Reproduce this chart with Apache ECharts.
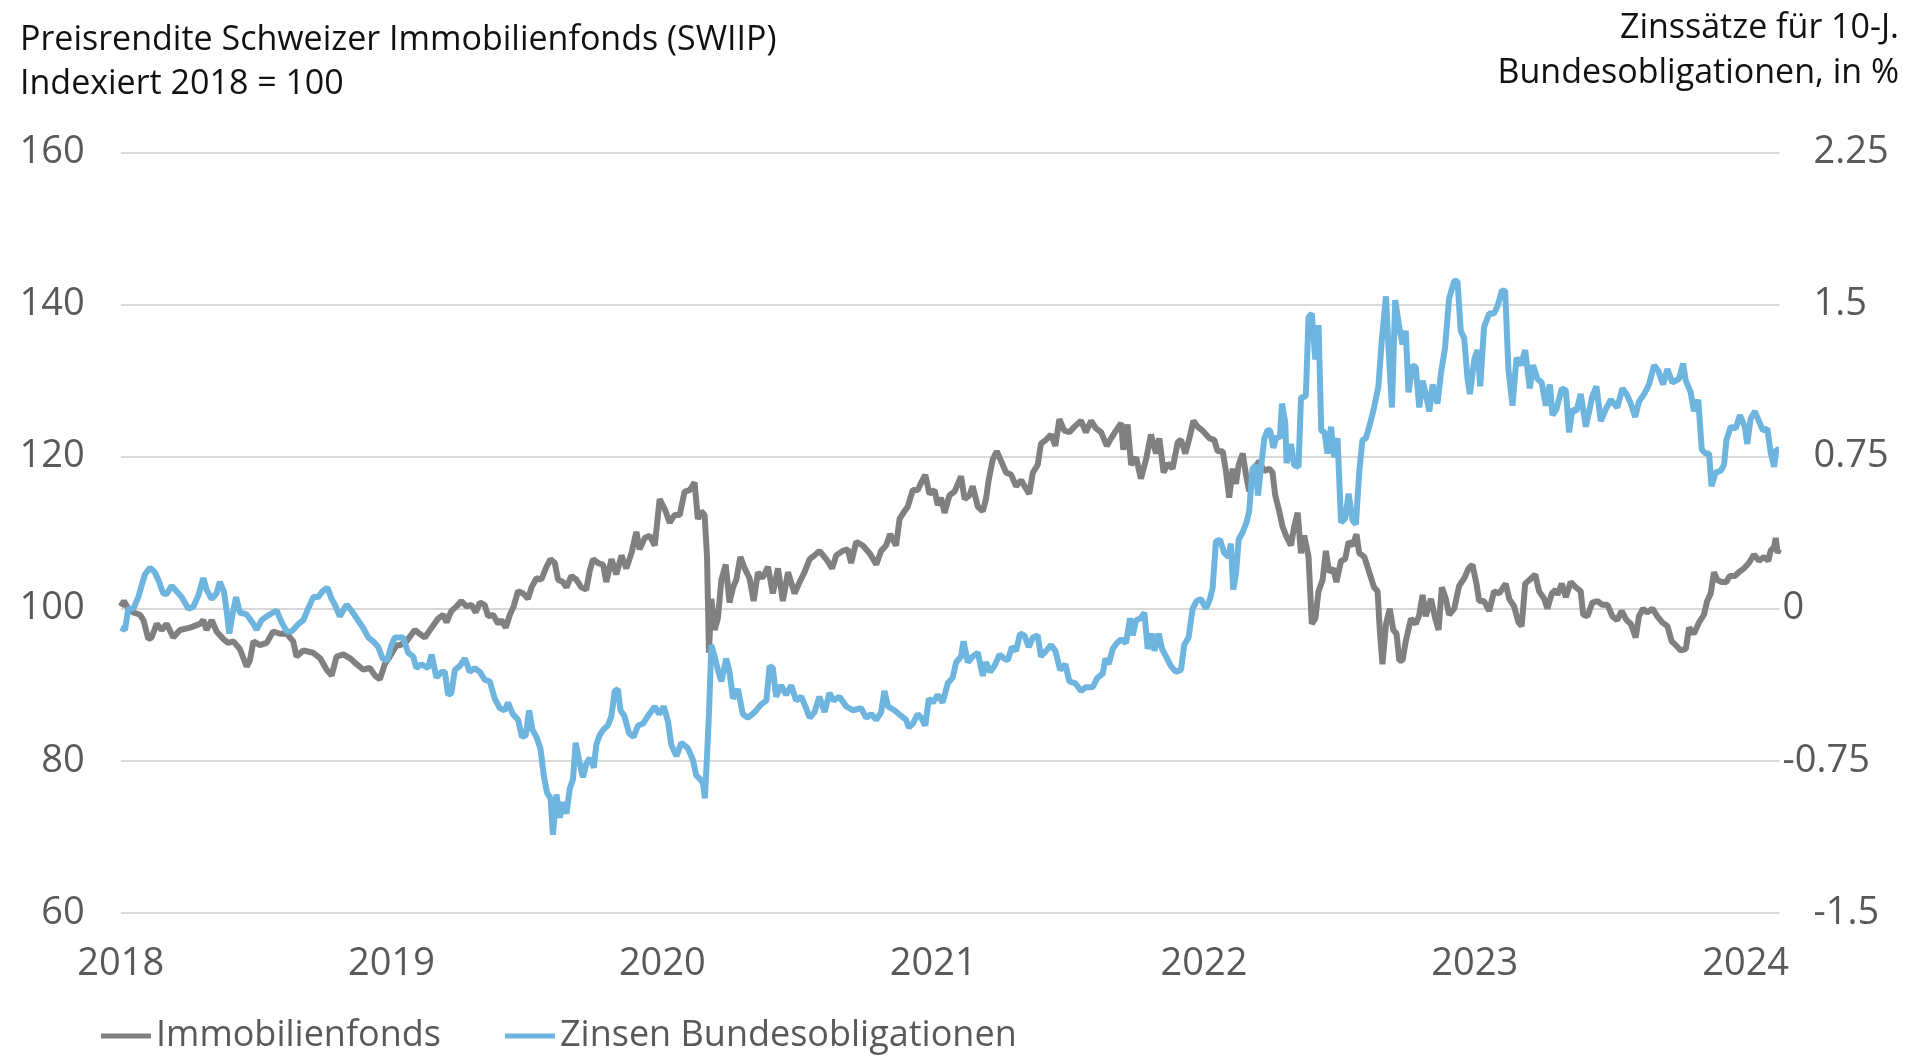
<!DOCTYPE html>
<html>
<head>
<meta charset="utf-8">
<title>SWIIP vs Bundesobligationen</title>
<script src="https://cdn.jsdelivr.net/npm/echarts/dist/echarts.min.js"></script>
<style>
  body { margin: 0; background: #fff; }
  #chart { width: 1911px; height: 1059px; }
</style>
</head>
<body>
<div id="chart"></div>
<script>
// [year (decimal), index 2018 = 100]
var immoData = [
  [2018.000,100.3],[2018.012,101],[2018.028,100],[2018.047,99.5],[2018.071,99.2],[2018.084,98.5],[2018.102,96],[2018.114,96.2],[2018.133,98],[2018.151,97.2],[2018.170,98],[2018.194,96.2],[2018.219,97.2],[2018.256,97.5],[2018.293,98],[2018.305,98.5],[2018.317,97.2],[2018.336,98.5],[2018.354,97],[2018.379,96],[2018.397,95.5],[2018.416,95.7],[2018.440,94.7],[2018.465,92.4],[2018.477,93.2],[2018.490,95.7],[2018.514,95.2],[2018.539,95.5],[2018.563,97],[2018.588,96.7],[2018.613,96.7],[2018.637,95.7],[2018.649,93.7],[2018.674,94.5],[2018.711,94.2],[2018.736,93.5],[2018.760,92],[2018.779,91.2],[2018.797,93.7],[2018.822,94],[2018.846,93.5],[2018.871,92.7],[2018.895,92],[2018.920,92.2],[2018.939,91.2],[2018.957,90.7],[2018.975,92.7],[2018.994,93.7],[2019.018,95.2],
  [2019.031,95.2],[2019.055,95.7],[2019.086,97.2],[2019.104,96.7],[2019.123,96.2],[2019.148,97.5],[2019.172,98.7],[2019.191,99.2],[2019.203,98.2],[2019.221,99.7],[2019.240,100.3],[2019.258,101],[2019.277,100.3],[2019.295,100.5],[2019.311,99.5],[2019.326,100.8],[2019.344,100.5],[2019.357,99],[2019.375,99.2],[2019.394,98],[2019.406,98.5],[2019.422,97.5],[2019.437,99.2],[2019.451,100.3],[2019.467,102.3],[2019.486,102],[2019.504,101.3],[2019.517,102.8],[2019.535,104],[2019.553,103.8],[2019.572,105.5],[2019.587,106.5],[2019.603,106],[2019.615,103.8],[2019.633,103.5],[2019.646,102.8],[2019.664,104.3],[2019.683,103.8],[2019.701,102.8],[2019.719,102.5],[2019.732,105],[2019.744,106.5],[2019.763,106],[2019.781,105.8],[2019.793,103.5],[2019.812,106.5],[2019.830,104.5],[2019.849,107],[2019.867,105.3],[2019.886,107.3],[2019.904,110.1],[2019.916,107.8],[2019.935,109.3],[2019.953,109.6],[2019.972,108.3],[2019.990,114.4],[2020.009,113.1],[2020.027,111.3],[2020.045,112.3],[2020.064,112.3],[2020.082,115.4],
  [2020.101,115.6],[2020.119,116.6],[2020.131,111.8],[2020.144,112.8],[2020.156,112.3],[2020.165,106.8],[2020.172,94.2],[2020.181,101.3],[2020.193,97.2],[2020.205,98.7],[2020.218,103.8],[2020.234,105.8],[2020.248,100.8],[2020.261,102.8],[2020.273,103.8],[2020.288,106.8],[2020.304,105.3],[2020.322,104],[2020.337,101],[2020.353,104.8],[2020.369,104],[2020.390,105.5],[2020.408,102],[2020.427,105.3],[2020.445,101],[2020.464,104.8],[2020.488,102],[2020.507,103.5],[2020.525,104.8],[2020.544,106.5],[2020.562,107],[2020.580,107.6],[2020.605,106.5],[2020.627,105.3],[2020.642,107],[2020.666,107.6],[2020.685,107.8],[2020.697,106],[2020.716,108.8],[2020.740,108.3],[2020.765,107.3],[2020.790,105.8],[2020.808,107.6],[2020.826,108.3],[2020.841,109.8],[2020.863,108.3],[2020.876,111.8],[2020.890,112.6],[2020.906,113.4],[2020.925,115.6],[2020.943,115.6],[2020.956,116.6],[2020.971,117.6],[2020.986,115.1],[2021.005,115.6],[2021.017,113.6],[2021.029,114.6],[2021.042,112.6],[2021.060,114.9],[2021.079,115.4],[2021.103,117.4],[2021.116,114.4],[2021.134,114.9],[2021.146,116.1],[2021.165,113.4],
  [2021.183,112.8],[2021.195,114.4],[2021.205,116.9],[2021.220,119.6],[2021.235,120.7],[2021.251,119.4],[2021.269,117.9],[2021.288,117.6],[2021.306,116.1],[2021.325,116.9],[2021.341,115.9],[2021.355,115.1],[2021.368,117.9],[2021.386,118.9],[2021.398,121.7],[2021.417,122.2],[2021.435,122.9],[2021.451,121.4],[2021.466,124.9],[2021.484,123.4],[2021.503,123.2],[2021.521,123.9],[2021.546,124.7],[2021.564,123.2],[2021.583,124.7],[2021.601,123.7],[2021.620,123.2],[2021.641,121.4],[2021.657,122.4],[2021.675,123.4],[2021.694,124.4],[2021.702,120.9],[2021.718,124.2],[2021.731,118.9],[2021.749,119.9],[2021.767,117.1],[2021.786,119.6],[2021.804,122.9],[2021.823,120.4],[2021.835,122.4],[2021.851,117.9],[2021.866,119.1],[2021.884,118.4],[2021.903,121.9],[2021.915,122.2],[2021.931,120.4],[2021.946,122.4],[2021.961,124.7],[2021.977,123.9],[2021.995,123.4],[2022.020,122.4],[2022.038,122.2],[2022.050,120.7],[2022.069,120.7],[2022.081,118.1],[2022.093,114.6],[2022.106,118.4],[2022.118,116.4],[2022.128,118.9],[2022.143,120.4],[2022.155,117.6],[2022.167,115.4],[2022.186,118.4],[2022.204,119.4],[2022.222,118.1],
  [2022.241,118.4],[2022.253,117.9],[2022.263,114.9],[2022.278,112.8],[2022.290,110.8],[2022.303,109.6],[2022.321,108.3],[2022.333,110.8],[2022.346,112.6],[2022.358,107.3],[2022.370,109.6],[2022.386,106.8],[2022.398,98.0],[2022.411,98.7],[2022.423,102.3],[2022.438,103.8],[2022.450,107.6],[2022.462,104.8],[2022.477,105.3],[2022.489,103.5],[2022.506,106.3],[2022.521,106.5],[2022.534,108.8],[2022.549,108.3],[2022.563,109.8],[2022.573,107.3],[2022.592,106.8],[2022.610,104.8],[2022.628,102.8],[2022.641,102.3],[2022.649,97.2],[2022.659,92.7],[2022.672,98.0],[2022.686,100],[2022.699,97.2],[2022.711,96.7],[2022.721,93.2],[2022.733,93.2],[2022.745,95.7],[2022.764,98.7],[2022.782,98.0],[2022.795,99.2],[2022.807,101.8],[2022.819,99.0],[2022.838,101.3],[2022.854,98.7],[2022.866,97.2],[2022.878,102.8],[2022.893,101.3],[2022.905,99.2],[2022.924,100],[2022.942,103.0],[2022.961,104.0],[2022.977,105.3],[2022.991,105.8],[2023.006,103.3],[2023.016,101],[2023.034,101],[2023.053,99.7],[2023.071,102.3],[2023.090,102.0],[2023.114,103.3],[2023.127,101.3],[2023.145,100.3],[2023.161,98.2],[2023.173,97.7],[2023.186,103.3],[2023.203,103.8],[2023.223,104.5],[2023.237,102.3],[2023.256,101.3],[2023.268,100],[2023.284,102.0],[2023.299,102.5],
  [2023.305,101.8],[2023.321,103.3],[2023.336,101.5],[2023.354,103.5],[2023.373,102.8],[2023.391,102.3],[2023.400,99.2],[2023.416,99.0],[2023.434,100.8],[2023.453,101],[2023.471,100.5],[2023.490,100.5],[2023.508,99.0],[2023.526,98.5],[2023.542,99.7],[2023.560,98.5],[2023.576,98.0],[2023.594,96.2],[2023.606,99.0],[2023.621,100],[2023.637,99.5],[2023.656,100],[2023.674,99.0],[2023.692,98.2],[2023.711,97.7],[2023.727,95.7],[2023.742,95.2],[2023.760,94.5],[2023.779,94.7],[2023.791,97.5],[2023.809,96.7],[2023.828,98.2],[2023.846,99.2],[2023.858,101],[2023.871,102.0],[2023.883,104.8],[2023.895,103.8],[2023.911,103.5],[2023.929,103.5],[2023.941,104.3],[2023.961,104.3],[2023.975,104.8],[2023.994,105.3],[2024.012,106.0],[2024.031,107.1],[2024.049,106.3],[2024.068,106.8],[2024.084,106.3],[2024.092,107.6],[2024.105,108.1],[2024.111,109.3],[2024.118,107.3],[2024.123,107.8]
];

// [year (decimal), 10y yield in %]
var zinsData = [
  [2018.000,-0.094],[2018.016,-0.104],[2018.028,0],[2018.047,0],[2018.065,0.057],[2018.077,0.113],[2018.090,0.170],[2018.108,0.202],[2018.126,0.179],[2018.139,0.142],[2018.157,0.076],[2018.170,0.072],[2018.188,0.113],[2018.207,0.085],[2018.225,0.057],[2018.250,0],[2018.268,0.009],[2018.287,0.066],[2018.305,0.151],[2018.317,0.094],[2018.336,0.047],[2018.354,0.076],[2018.366,0.132],[2018.381,0.085],[2018.391,-0.009],[2018.401,-0.123],[2018.413,-0.028],[2018.426,0.057],[2018.440,-0.019],[2018.465,-0.028],[2018.490,-0.076],[2018.502,-0.104],[2018.520,-0.057],[2018.539,-0.038],[2018.563,-0.019],[2018.576,-0.009],[2018.594,-0.066],[2018.613,-0.113],[2018.631,-0.113],[2018.656,-0.076],[2018.674,-0.057],[2018.692,0],[2018.711,0.057],[2018.729,0.057],[2018.745,0.085],[2018.763,0.104],[2018.779,0.047],[2018.791,0.019],[2018.809,-0.038],[2018.834,0.019],[2018.852,-0.009],[2018.871,-0.047],[2018.895,-0.094],[2018.914,-0.142],[2018.932,-0.161],[2018.951,-0.189],[2018.967,-0.246],[2018.984,-0.255],[2019.000,-0.179],[2019.012,-0.142],[2019.031,-0.142],
  [2019.043,-0.142],[2019.061,-0.217],[2019.080,-0.236],[2019.092,-0.293],[2019.110,-0.274],[2019.135,-0.293],[2019.148,-0.227],[2019.166,-0.340],[2019.184,-0.312],[2019.197,-0.312],[2019.209,-0.425],[2019.221,-0.416],[2019.234,-0.302],[2019.252,-0.283],[2019.271,-0.246],[2019.289,-0.312],[2019.307,-0.293],[2019.326,-0.312],[2019.344,-0.350],[2019.363,-0.359],[2019.381,-0.444],[2019.400,-0.491],[2019.418,-0.501],[2019.430,-0.463],[2019.448,-0.520],[2019.467,-0.548],[2019.482,-0.633],[2019.496,-0.623],[2019.508,-0.501],[2019.520,-0.595],[2019.535,-0.633],[2019.550,-0.690],[2019.562,-0.822],[2019.574,-0.907],[2019.587,-0.935],[2019.596,-1.115],[2019.609,-0.916],[2019.621,-1.030],[2019.633,-0.954],[2019.646,-1.011],[2019.658,-0.888],[2019.670,-0.841],[2019.680,-0.661],[2019.695,-0.765],[2019.707,-0.831],[2019.719,-0.765],[2019.732,-0.737],[2019.747,-0.784],[2019.756,-0.671],[2019.769,-0.623],[2019.783,-0.595],[2019.799,-0.576],[2019.812,-0.529],[2019.824,-0.406],[2019.836,-0.397],[2019.845,-0.501],[2019.860,-0.529],[2019.877,-0.614],[2019.894,-0.633],[2019.910,-0.576],[2019.929,-0.567],[2019.947,-0.529],[2019.972,-0.482],[2019.988,-0.520],[2020.005,-0.482],[2020.021,-0.557],[2020.033,-0.671],[2020.052,-0.727],[2020.070,-0.661],[2020.088,-0.680],
  [2020.095,-0.690],[2020.113,-0.746],[2020.125,-0.822],[2020.140,-0.841],[2020.150,-0.860],[2020.157,-0.935],[2020.165,-0.727],[2020.172,-0.520],[2020.181,-0.179],[2020.193,-0.236],[2020.205,-0.302],[2020.218,-0.359],[2020.236,-0.246],[2020.248,-0.312],[2020.261,-0.444],[2020.279,-0.397],[2020.297,-0.520],[2020.316,-0.538],[2020.341,-0.510],[2020.365,-0.472],[2020.384,-0.453],[2020.396,-0.283],[2020.408,-0.293],[2020.420,-0.434],[2020.439,-0.378],[2020.457,-0.425],[2020.476,-0.378],[2020.494,-0.453],[2020.513,-0.434],[2020.531,-0.491],[2020.544,-0.538],[2020.562,-0.510],[2020.580,-0.434],[2020.599,-0.510],[2020.617,-0.416],[2020.632,-0.453],[2020.654,-0.434],[2020.679,-0.482],[2020.703,-0.501],[2020.734,-0.491],[2020.753,-0.538],[2020.771,-0.520],[2020.790,-0.548],[2020.808,-0.510],[2020.820,-0.406],[2020.833,-0.482],[2020.857,-0.501],[2020.882,-0.529],[2020.900,-0.548],[2020.910,-0.586],[2020.925,-0.567],[2020.943,-0.520],[2020.956,-0.538],[2020.971,-0.576],[2020.984,-0.444],[2020.999,-0.463],[2021.017,-0.425],[2021.035,-0.463],[2021.054,-0.368],[2021.072,-0.340],[2021.085,-0.264],[2021.103,-0.236],[2021.112,-0.161],[2021.128,-0.264],[2021.146,-0.236],[2021.165,-0.217],
  [2021.183,-0.331],[2021.195,-0.264],[2021.210,-0.312],[2021.226,-0.283],[2021.245,-0.227],[2021.263,-0.246],[2021.275,-0.255],[2021.291,-0.189],[2021.306,-0.208],[2021.321,-0.123],[2021.337,-0.132],[2021.353,-0.189],[2021.368,-0.142],[2021.386,-0.132],[2021.398,-0.236],[2021.417,-0.208],[2021.435,-0.179],[2021.451,-0.208],[2021.469,-0.302],[2021.488,-0.274],[2021.503,-0.359],[2021.525,-0.368],[2021.546,-0.406],[2021.564,-0.387],[2021.589,-0.387],[2021.607,-0.340],[2021.626,-0.321],[2021.636,-0.246],[2021.648,-0.274],[2021.663,-0.198],[2021.678,-0.170],[2021.694,-0.151],[2021.712,-0.170],[2021.727,-0.047],[2021.737,-0.132],[2021.749,-0.057],[2021.767,-0.047],[2021.780,-0.019],[2021.792,-0.198],[2021.808,-0.123],[2021.817,-0.208],[2021.833,-0.123],[2021.845,-0.198],[2021.860,-0.236],[2021.878,-0.283],[2021.896,-0.312],[2021.915,-0.302],[2021.927,-0.179],[2021.943,-0.142],[2021.958,0],[2021.973,0.038],[2021.989,0.047],[2022.007,0],[2022.022,0.047],[2022.032,0.104],[2022.044,0.331],[2022.059,0.340],[2022.075,0.274],[2022.091,0.255],[2022.099,0.321],[2022.108,0.094],[2022.118,0.170],[2022.128,0.340],[2022.143,0.378],[2022.157,0.425],[2022.167,0.482],[2022.179,0.690],[2022.192,0.708],[2022.199,0.557],[2022.213,0.727],[2022.223,0.841],[2022.235,0.880],
  [2022.244,0.878],[2022.256,0.793],[2022.268,0.850],[2022.280,0.841],[2022.288,1.011],[2022.300,0.916],[2022.305,0.718],[2022.321,0.812],[2022.333,0.708],[2022.349,0.699],[2022.358,1.039],[2022.376,1.048],[2022.386,1.436],[2022.398,1.455],[2022.411,1.228],[2022.423,1.398],[2022.433,0.878],[2022.445,0.869],[2022.456,0.765],[2022.469,0.897],[2022.481,0.746],[2022.493,0.841],[2022.506,0.425],[2022.521,0.444],[2022.534,0.567],[2022.549,0.434],[2022.561,0.416],[2022.573,0.671],[2022.585,0.831],[2022.598,0.841],[2022.614,0.916],[2022.628,0.992],[2022.644,1.096],[2022.657,1.332],[2022.672,1.540],[2022.681,1.294],[2022.694,0.992],[2022.706,1.521],[2022.721,1.388],[2022.733,1.303],[2022.745,1.370],[2022.755,1.067],[2022.770,1.200],[2022.782,1.190],[2022.795,0.992],[2022.807,1.124],[2022.819,1.058],[2022.832,0.973],[2022.844,1.105],[2022.862,1.011],[2022.875,1.162],[2022.890,1.285],[2022.905,1.530],[2022.924,1.615],[2022.936,1.615],[2022.948,1.370],[2022.961,1.332],[2022.973,1.133],[2022.982,1.058],[2022.998,1.228],[2023.010,1.275],[2023.020,1.096],[2023.034,1.388],[2023.053,1.455],[2023.071,1.455],[2023.084,1.492],[2023.100,1.568],[2023.112,1.568],[2023.124,1.181],[2023.139,1.001],[2023.154,1.237],[2023.170,1.200],[2023.186,1.275],[2023.203,1.086],[2023.215,1.200],[2023.231,1.133],[2023.247,1.115],[2023.262,1.001],[2023.277,1.105],[2023.287,0.954],[2023.301,0.982],
  [2023.305,0.973],[2023.321,1.086],[2023.336,1.077],[2023.348,0.869],[2023.360,0.982],[2023.375,0.973],[2023.391,1.058],[2023.410,0.897],[2023.422,0.973],[2023.434,1.048],[2023.449,1.096],[2023.465,0.925],[2023.483,0.982],[2023.502,1.030],[2023.526,0.992],[2023.545,1.086],[2023.560,1.058],[2023.576,1.011],[2023.592,0.945],[2023.606,1.020],[2023.625,1.058],[2023.643,1.105],[2023.662,1.200],[2023.678,1.171],[2023.695,1.105],[2023.711,1.181],[2023.729,1.115],[2023.754,1.133],[2023.769,1.209],[2023.779,1.124],[2023.797,1.067],[2023.809,0.973],[2023.825,1.030],[2023.838,0.784],[2023.852,0.765],[2023.865,0.765],[2023.874,0.604],[2023.889,0.671],[2023.908,0.680],[2023.920,0.708],[2023.929,0.831],[2023.945,0.897],[2023.963,0.888],[2023.979,0.954],[2023.997,0.897],[2024.006,0.812],[2024.018,0.935],[2024.034,0.973],[2024.049,0.925],[2024.064,0.878],[2024.080,0.888],[2024.092,0.774],[2024.105,0.699],[2024.113,0.784],[2024.123,0.784]
];

var seriesNames = ['Immobilienfonds', 'Zinsen Bundesobligationen'];
var seriesColors = ['#808080', '#6db5df'];

var font = 'Open Sans';
var labelColor = '#595959';
var titleStyle = { fontFamily: font, fontSize: 34, fontWeight: 'normal', color: '#111', lineHeight: 44 };

var dom = document.getElementById("chart");
var myChart = echarts.init(dom);

option = {
  animation: false,
  backgroundColor: '#fff',
  title: [
    { text: 'Preisrendite Schweizer Immobilienfonds (SWIIP)\nIndexiert 2018 = 100', left: 20, top: 18, padding: 0, textStyle: titleStyle },
    // right-hand axis title, one line each so both sit flush right
    { text: 'Zinssätze für 10-J.', right: 12, top: 6, padding: 0, textStyle: titleStyle },
    { text: 'Bundesobligationen, in %', right: 12, top: 51, padding: 0, textStyle: titleStyle }
  ],
  legend: {
    left: 96,
    top: 1013,
    icon: 'rect',
    itemWidth: 50,
    itemHeight: 5,
    itemGap: 64,
    textStyle: { fontFamily: font, fontSize: 36, color: labelColor },
    data: seriesNames
  },
  grid: { left: 120.7, right: 131.5, top: 152.3, bottom: 146.1 },
  xAxis: {
    type: 'value',
    min: 2018,
    max: 2024.125,
    interval: 1,
    axisLine: { show: false },
    axisTick: { show: false },
    splitLine: { show: false },
    axisLabel: {
      margin: 32,
      fontFamily: font,
      fontSize: 38,
      color: labelColor,
      formatter: function (v) {
        return Math.abs(v - Math.round(v)) < 1e-6 ? String(Math.round(v)) : '';
      }
    }
  },
  yAxis: [
    {
      type: 'value',
      position: 'left',
      min: 60,
      max: 160,
      interval: 20,
      axisLine: { show: false },
      axisTick: { show: false },
      splitLine: { lineStyle: { color: '#d9d9d9', width: 2 } },
      axisLabel: { margin: 36, fontFamily: font, fontSize: 38, color: labelColor }
    },
    {
      type: 'value',
      position: 'right',
      min: -1.5,
      max: 2.25,
      interval: 0.75,
      axisLine: { show: false },
      axisTick: { show: false },
      splitLine: { show: false },
      axisLabel: {
        margin: 3,
        fontFamily: font,
        fontSize: 38,
        color: labelColor,
        formatter: function (v) {
          // 0 and -0.75 sit closer to the plot in the original
          if (v === 0 || v === -0.75) return '{a|' + v + '}';
          return '{b|' + v + '}';
        },
        rich: {
          a: { fontFamily: font, fontSize: 38, color: labelColor },
          b: { fontFamily: font, fontSize: 38, color: labelColor, padding: [0, 0, 0, 31] }
        }
      }
    }
  ],
  series: [
    {
      name: seriesNames[0],
      type: 'line',
      yAxisIndex: 0,
      data: immoData,
      showSymbol: false,
      color: seriesColors[0],
      lineStyle: { color: seriesColors[0], width: 6 },
      z: 2
    },
    {
      name: seriesNames[1],
      type: 'line',
      yAxisIndex: 1,
      data: zinsData,
      showSymbol: false,
      color: seriesColors[1],
      lineStyle: { color: seriesColors[1], width: 6 },
      z: 3
    }
  ]
};

if (option && typeof option === "object") {
    myChart.setOption(option, true);
}
</script>
</body>
</html>
